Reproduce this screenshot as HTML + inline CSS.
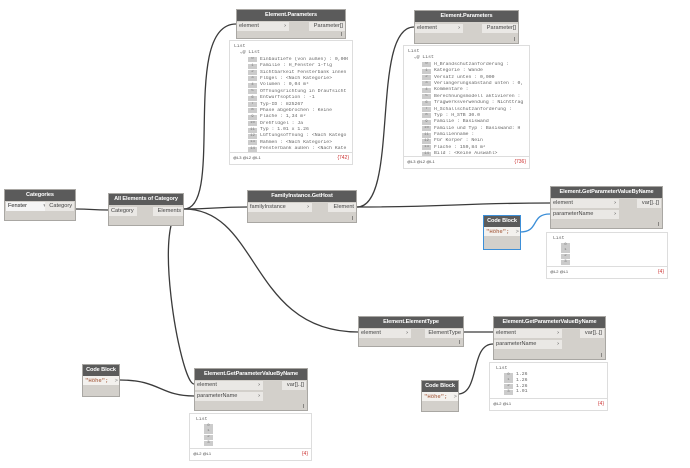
<!DOCTYPE html><html><head><meta charset="utf-8"><style>
body{margin:0;width:690px;height:468px;background:#fff;position:relative;overflow:hidden;font-family:"Liberation Sans",sans-serif}
.n{position:absolute;background:#d3d0cb;border:1px solid #a9a7a3;box-sizing:border-box}
.h{background:#5b5b5b;color:#fff;font-size:5.6px;font-weight:bold;text-align:center;height:11px;line-height:11px;white-space:nowrap;overflow:hidden;letter-spacing:-0.1px}
.r{position:absolute;font-size:5.6px;color:#444;line-height:9px;height:9px;background:#eae8e5;padding-left:2px;box-sizing:border-box;white-space:nowrap}
.o{position:absolute;font-size:5.6px;color:#444;line-height:9px;height:9px;background:#eae8e5;padding:0 2px;text-align:right;white-space:nowrap}
.c{position:absolute;font-size:6.5px;color:#333}
.p{position:absolute;background:#fff;border:1px solid #ddd;box-sizing:border-box;font-family:"Liberation Mono",monospace;font-size:4.8px;color:#666;overflow:hidden}
.p div{height:6.4px;line-height:6.4px;white-space:nowrap;overflow:hidden}
.p .i{padding-left:14px}
.p .j{padding-left:8px;height:5.6px;line-height:5.6px}
.f{position:absolute;left:0;right:0;bottom:0;height:11px!important;border-top:1px solid #ddd;font-size:4px;color:#444;line-height:10px!important;padding:0 3px;font-family:"Liberation Sans",sans-serif;background:#fff}
.f b{float:right;color:#c33;font-weight:normal;font-size:5px}
.ix{display:inline-block;background:#ccc;color:#777;width:9px;text-align:center;margin-right:3px;height:5px;line-height:5px;font-size:4px;vertical-align:top;margin-top:0.5px}
.cb{position:absolute;background:#d3d0cb;border:1px solid #a9a7a3;box-sizing:border-box}
.cbt{font-family:"Liberation Mono",monospace;font-size:5.6px;color:#9b4a2a;background:#f3f1ee;height:9px;line-height:9px;padding-left:2px;position:relative}
</style></head><body>
<svg width="690" height="468" style="position:absolute;left:0;top:0" fill="none" stroke="#3b3b3b" stroke-width="1.3">
<path d="M76,209 C92,209 92,210 108,210"/>
<path d="M184,209 C225,209 180,24 236,24"/>
<path d="M184,209 C215,209 215,207 247,207"/>
<path d="M184,209 C260,209 250,332 358,332"/>
<path d="M184,209 C150,209 180,384 194,384"/>
<path d="M357,207 C400,207 370,27 414,27"/>
<path d="M357,207 C450,207 460,203 550,203"/>
<path d="M464,332 C480,332 480,332 493,332"/>
<path d="M458,394 C480,394 470,344 493,344"/>
<path d="M120,380 C160,380 160,396 194,396"/>
<path d="M520,232 C540,232 530,214 550,214" stroke="#3d8fd8"/>
</svg>

<div class="n" style="left:4px;top:189px;width:72px;height:32px"><div class="h">Categories</div>
<div class="r" style="left:1px;top:12px;width:42px;background:#f5f5f5;color:#222">Fenster <span style="float:right;color:#999;padding-right:2px">▾</span></div>
<div class="o" style="right:1px;top:12px;width:25px">Category</div></div>

<div class="n" style="left:108px;top:193px;width:76px;height:33px"><div class="h">All Elements of Category</div>
<div class="r" style="left:0;top:13px;width:28px">Category</div>
<div class="o" style="right:0;top:13px;width:26px">Elements</div></div>

<div class="n" style="left:247px;top:190px;width:110px;height:33px"><div class="h">FamilyInstance.GetHost</div>
<div class="r" style="left:0;top:12px;width:64px">familyInstance<span style="float:right;padding-right:3px">›</span></div>
<div class="o" style="right:0;top:12px;width:24px">Element</div><div class="c" style="right:3px;bottom:0;font-size:5px">I</div></div>

<div class="n" style="left:236px;top:9px;width:110px;height:30px"><div class="h">Element.Parameters</div>
<div class="r" style="left:0;top:12px;width:52px">element<span style="float:right;padding-right:3px">›</span></div>
<div class="o" style="right:0;top:12px;width:32px">Parameter[]</div><div class="c" style="right:3px;bottom:0;font-size:5px">I</div></div>
<div class="p" style="left:229px;top:40px;width:124px;height:125px;padding:3px 4px"><div>List</div><div>&nbsp;&nbsp;⌄@ List</div>
<div class="i"><span class="ix">0</span>Einbautiefe (von außen) : 0,000</div><div class="i"><span class="ix">1</span>Familie : H_Fenster 1-flg</div><div class="i"><span class="ix">2</span>Sichtbarkeit Fensterbank innen</div><div class="i"><span class="ix">3</span>Flügel : &lt;Nach Kategorie&gt;</div><div class="i"><span class="ix">4</span>Volumen : 0,04 m³</div><div class="i"><span class="ix">5</span>Öffnungsrichtung in Draufsicht</div><div class="i"><span class="ix">6</span>Entwurfsoption : -1</div><div class="i"><span class="ix">7</span>Typ-ID : 825267</div><div class="i"><span class="ix">8</span>Phase abgebrochen : Keine</div><div class="i"><span class="ix">9</span>Fläche : 1,34 m²</div><div class="i"><span class="ix">10</span>Drehflügel : Ja</div><div class="i"><span class="ix">11</span>Typ : 1.01 x 1.26</div><div class="i"><span class="ix">12</span>Lüftungsöffnung : &lt;Nach Katego</div><div class="i"><span class="ix">13</span>Rahmen : &lt;Nach Kategorie&gt;</div><div class="i"><span class="ix">14</span>Fensterbank außen : &lt;Nach Kate</div>
<div class="f">@L3 @L2 @L1<b>{742}</b></div></div>

<div class="n" style="left:414px;top:10px;width:105px;height:34px"><div class="h">Element.Parameters</div>
<div class="r" style="left:0;top:13px;width:48px">element<span style="float:right;padding-right:3px">›</span></div>
<div class="o" style="right:0;top:13px;width:32px">Parameter[]</div><div class="c" style="right:3px;bottom:0;font-size:5px">I</div></div>
<div class="p" style="left:403px;top:45px;width:127px;height:124px;padding:3px 4px"><div>List</div><div>&nbsp;&nbsp;⌄@ List</div>
<div class="i"><span class="ix">0</span>H_Brandschutzanforderung :</div><div class="i"><span class="ix">1</span>Kategorie : Wände</div><div class="i"><span class="ix">2</span>Versatz unten : 0,000</div><div class="i"><span class="ix">3</span>Verlängerungsabstand unten : 0,</div><div class="i"><span class="ix">4</span>Kommentare :</div><div class="i"><span class="ix">5</span>Berechnungsmodell aktivieren :</div><div class="i"><span class="ix">6</span>Tragwerksverwendung : Nichttrag</div><div class="i"><span class="ix">7</span>H_Schallschutzanforderung :</div><div class="i"><span class="ix">8</span>Typ : H_STB 30.0</div><div class="i"><span class="ix">9</span>Familie : Basiswand</div><div class="i"><span class="ix">10</span>Familie und Typ : Basiswand: H</div><div class="i"><span class="ix">11</span>Familienname :</div><div class="i"><span class="ix">12</span>Für Körper : Nein</div><div class="i"><span class="ix">13</span>Fläche : 159,84 m²</div><div class="i"><span class="ix">14</span>Bild : &lt;Keine Auswahl&gt;</div>
<div class="f">@L3 @L2 @L1<b>{736}</b></div></div>

<div class="n" style="left:550px;top:186px;width:113px;height:43px"><div class="h">Element.GetParameterValueByName</div>
<div class="r" style="left:0;top:12px;width:68px">element<span style="float:right;padding-right:3px">›</span></div>
<div class="r" style="left:0;top:23px;width:68px">parameterName<span style="float:right;padding-right:3px">›</span></div>
<div class="o" style="right:1px;top:12px;width:20px">var[]..[]</div><div class="c" style="right:3px;bottom:0;font-size:5px">I</div></div>
<div class="p" style="left:546px;top:232px;width:122px;height:47px;padding:3px 6px"><div>List</div><div class="j"><span class="ix">0</span></div><div class="j"><span class="ix">1</span></div><div class="j"><span class="ix">2</span></div><div class="j"><span class="ix">3</span></div><div class="f">@L2 @L1<b>{4}</b></div></div>
<div class="cb" style="left:483px;top:215px;width:38px;height:35px;border:1px solid #3d8fd8"><div class="h">Code Block</div><div class="cbt">"Höhe";<span style="position:absolute;right:1px;color:#888">&gt;</span></div></div>

<div class="n" style="left:358px;top:316px;width:106px;height:31px"><div class="h">Element.ElementType</div>
<div class="r" style="left:0;top:12px;width:52px">element<span style="float:right;padding-right:3px">›</span></div>
<div class="o" style="right:0;top:12px;width:34px">ElementType</div><div class="c" style="right:3px;bottom:0;font-size:5px">I</div></div>

<div class="n" style="left:493px;top:316px;width:113px;height:44px"><div class="h">Element.GetParameterValueByName</div>
<div class="r" style="left:0;top:12px;width:68px">element<span style="float:right;padding-right:3px">›</span></div>
<div class="r" style="left:0;top:23px;width:68px">parameterName<span style="float:right;padding-right:3px">›</span></div>
<div class="o" style="right:1px;top:12px;width:20px">var[]..[]</div><div class="c" style="right:3px;bottom:0;font-size:5px">I</div></div>
<div class="p" style="left:489px;top:362px;width:119px;height:49px;padding:3px 6px"><div>List</div><div class="j"><span class="ix">0</span>1.26</div><div class="j"><span class="ix">1</span>1.26</div><div class="j"><span class="ix">2</span>1.26</div><div class="j"><span class="ix">3</span>1.01</div><div class="f">@L2 @L1<b>{4}</b></div></div>
<div class="cb" style="left:421px;top:380px;width:38px;height:32px"><div class="h">Code Block</div><div class="cbt">"Höhe";<span style="position:absolute;right:1px;color:#888">&gt;</span></div></div>

<div class="cb" style="left:82px;top:364px;width:38px;height:33px"><div class="h">Code Block</div><div class="cbt">"Höhe";<span style="position:absolute;right:1px;color:#888">&gt;</span></div></div>
<div class="n" style="left:194px;top:368px;width:114px;height:43px"><div class="h">Element.GetParameterValueByName</div>
<div class="r" style="left:0;top:12px;width:68px">element<span style="float:right;padding-right:3px">›</span></div>
<div class="r" style="left:0;top:23px;width:68px">parameterName<span style="float:right;padding-right:3px">›</span></div>
<div class="o" style="right:1px;top:12px;width:20px">var[]..[]</div><div class="c" style="right:3px;bottom:0;font-size:5px">I</div></div>
<div class="p" style="left:189px;top:413px;width:123px;height:48px;padding:3px 6px"><div>List</div><div class="j"><span class="ix">0</span></div><div class="j"><span class="ix">1</span></div><div class="j"><span class="ix">2</span></div><div class="j"><span class="ix">3</span></div><div class="f">@L2 @L1<b>{4}</b></div></div>
</body></html>
